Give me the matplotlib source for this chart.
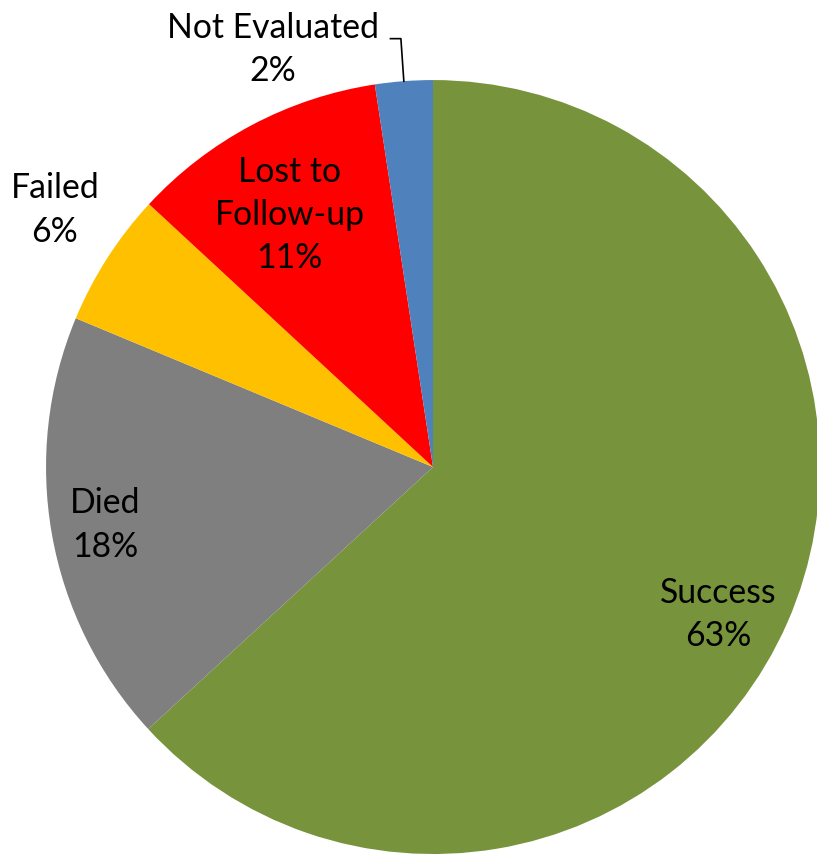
import matplotlib.pyplot as plt
import numpy as np

categories = ["Success", "Died", "Failed", "Lost to\nFollow-up", "Not Evaluated"]
shares = [63.1, 18.1, 5.6, 10.7, 2.4]
colors = ["#77933C", "#7F7F7F", "#FFC000", "#FF0000", "#4F81BD"]

# label centres in axes data units (pie radius = 1)
label_xy = [(0.736, -0.382), (-0.848, -0.150), (-0.977, 0.664),
            (-0.370, 0.651), (-0.413, 1.078)]

plt.rcParams["font.family"] = ["Lato", "DejaVu Sans"]

fig = plt.figure(figsize=(8.17, 8.59), dpi=100)
ax = fig.add_axes([0.530 - 0.4737, 0.4563 - 0.4505, 0.9474, 0.901])
wedges, _ = ax.pie(shares, colors=colors, startangle=90, counterclock=False,
                   radius=1, wedgeprops=dict(linewidth=0))
ax.set_xlim(-1, 1)
ax.set_ylim(-1, 1)
ax.set_aspect("equal")
ax.axis("off")

for name, val, (x, y) in zip(categories, shares, label_xy):
    ax.text(x, y, f"{name}\n{val:.0f}%", ha="center", va="center",
            fontsize=24.3, linespacing=1.43, color="black")

# leader line for the small slice
w = wedges[-1]
mid = np.deg2rad((w.theta1 + w.theta2) / 2)
ex, ey = np.cos(mid), np.sin(mid)
ax.plot([-0.11, -0.083, ex], [1.107, 1.107, ey], color="black", lw=1.2,
        clip_on=False)

fig.savefig("out.png", dpi=100)
